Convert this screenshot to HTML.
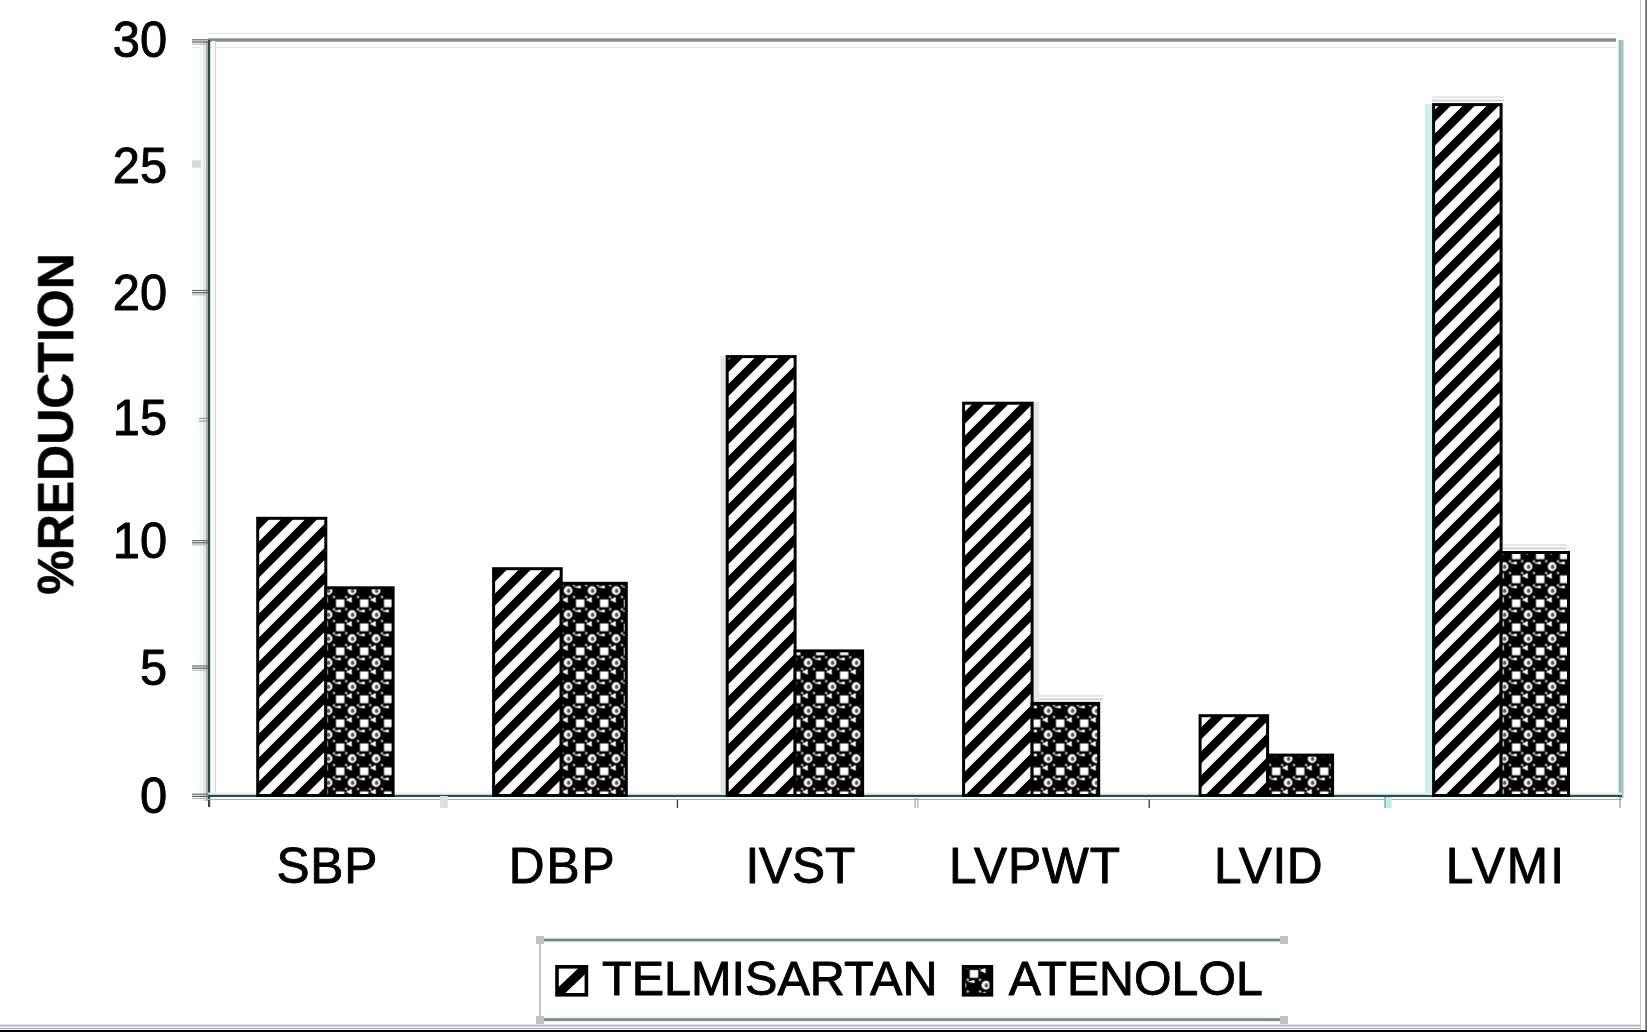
<!DOCTYPE html>
<html lang="en"><head><meta charset="utf-8"><title>% Reduction: Telmisartan vs Atenolol</title>
<style>html,body{margin:0;padding:0;background:#fff}body{width:1647px;height:1032px;overflow:hidden}svg{display:block}text{font-family:"Liberation Sans",Arial,sans-serif;fill:#000;stroke:#000;stroke-width:0.9px;stroke-linejoin:round}</style>
</head><body>
<svg width="1647" height="1032" viewBox="0 0 1647 1032">
<defs>
<pattern id="pt" patternUnits="userSpaceOnUse" width="24" height="24" patternTransform="translate(1 0)"><rect width="24" height="24" fill="#fff"/><path d="M-6 43.5L43.5 -6M-30 43.5L43.5 -30M-6 67.5L67.5 -6" stroke="#000" stroke-width="8.6" fill="none"/></pattern>
<pattern id="pa" patternUnits="userSpaceOnUse" width="24" height="24" patternTransform="translate(20.6 19.6)"><rect width="24" height="24" fill="#000"/><g fill="#fff"><rect x="3.4" y="3.8" width="8.4" height="7.8"/><path d="M13.2 4.3L19.2 1.2V7.2Z"/><circle cx="19.5" cy="19" r="4.4"/><path d="M1 15.4L8.2 13.8V17Z"/><rect x="0.4" y="0.4" width="2" height="2"/><rect x="12.6" y="0.4" width="2" height="2"/><rect x="0.4" y="12.6" width="2" height="2"/><rect x="12.6" y="12.6" width="2" height="2"/></g><ellipse cx="20" cy="19.2" rx="1.7" ry="2.3" fill="#456"/></pattern>
<pattern id="pa2" patternUnits="userSpaceOnUse" width="24" height="24" patternTransform="translate(6.4 6.2)"><rect width="24" height="24" fill="#000"/><g fill="#fff"><rect x="3.4" y="3.8" width="8.4" height="7.8"/><path d="M13.2 4.3L19.2 1.2V7.2Z"/><circle cx="19.5" cy="19" r="4.4"/><path d="M1 15.4L8.2 13.8V17Z"/><rect x="0.4" y="0.4" width="2" height="2"/><rect x="12.6" y="0.4" width="2" height="2"/><rect x="0.4" y="12.6" width="2" height="2"/><rect x="12.6" y="12.6" width="2" height="2"/></g><ellipse cx="20" cy="19.2" rx="1.7" ry="2.3" fill="#456"/></pattern>
<filter id="tb" x="-5%" y="-20%" width="110%" height="140%"><feGaussianBlur stdDeviation="0.55"/></filter>
<filter id="bl" x="-5%" y="-5%" width="110%" height="110%"><feGaussianBlur stdDeviation="0.65"/></filter>
</defs>
<rect width="1647" height="1032" fill="#fff"/>
<rect x="0" y="1024.6" width="1641" height="2" fill="#b4b4d4"/>
<rect x="0" y="1028" width="1641" height="1" fill="#9a9adc"/>
<rect x="0" y="1030" width="1647" height="2" fill="#000"/>
<rect x="1640" y="0" width="1" height="1030" fill="#c8c8c8"/>
<rect x="1645.3" y="0" width="1.7" height="1030" fill="#686868"/>
<rect x="208" y="38.3" width="1408" height="3.4" fill="#8c8c8c"/>
<rect x="208" y="33" width="1409" height="1" fill="#e6e6e6"/>
<rect x="192" y="47" width="1425" height="1" fill="#e6e6e6"/>
<rect x="1618" y="40" width="6" height="758" fill="#c6e4e6"/>
<rect x="1619.5" y="40" width="1.2" height="758" fill="#7f9c9e"/>
<rect x="1621.6" y="40" width="1" height="758" fill="#8aa6a8"/>
<rect x="200" y="41" width="3" height="760" fill="#e4ffff"/>
<rect x="203" y="41" width="3" height="760" fill="#ffdcdc"/>
<rect x="206" y="41" width="2" height="760" fill="#94b8b8"/>
<rect x="208" y="40" width="2.2" height="767" fill="#364646"/>
<rect x="212" y="41" width="2.5" height="754" fill="#e6ffff"/>
<rect x="215" y="41" width="1" height="754" fill="#f0c8c8"/>
<rect x="208" y="794.6" width="1414" height="2.4" fill="#2c4c4c"/>
<rect x="208" y="792.6" width="1414" height="2" fill="#e2f0f0"/>
<rect x="208" y="799" width="1414" height="1" fill="#84c2c2"/>
<rect x="192" y="793.6" width="16" height="1.2" fill="#6a6a6a"/><rect x="192" y="795.8" width="16" height="1.2" fill="#5a5a5a"/><rect x="192" y="798.0" width="16" height="1" fill="#b0b0b0"/>
<rect x="192" y="665.4" width="16" height="1.2" fill="#6a6a6a"/><rect x="192" y="667.6" width="16" height="1.2" fill="#5a5a5a"/><rect x="192" y="669.8" width="16" height="1" fill="#b0b0b0"/>
<rect x="192" y="540.0" width="16" height="1.2" fill="#6a6a6a"/><rect x="192" y="542.2" width="16" height="1.2" fill="#5a5a5a"/><rect x="192" y="544.4" width="16" height="1" fill="#b0b0b0"/>
<rect x="199" y="417.9" width="9" height="1" fill="#8c8c8c"/><rect x="199" y="420.5" width="9" height="1" fill="#8c8c8c"/>
<rect x="192" y="289.9" width="16" height="1.2" fill="#6a6a6a"/><rect x="192" y="292.1" width="16" height="1.2" fill="#5a5a5a"/><rect x="192" y="294.3" width="16" height="1" fill="#b0b0b0"/>
<rect x="192" y="160.2" width="9" height="7.6" fill="#dadada"/>
<rect x="192" y="39.2" width="16" height="1.2" fill="#6a6a6a"/><rect x="192" y="41.4" width="16" height="1.2" fill="#5a5a5a"/><rect x="192" y="43.6" width="16" height="1" fill="#b0b0b0"/>
<rect x="440" y="796" width="7.8" height="12" fill="#dedede"/>
<rect x="676.8" y="799.5" width="1.3" height="8.5" fill="#3c3c3c"/>
<rect x="914.6" y="798" width="1" height="10" fill="#8c8c8c"/><rect x="917.4" y="798" width="1" height="10" fill="#9a9a9a"/>
<rect x="1148.6" y="799.5" width="1.3" height="8.5" fill="#3c3c3c"/>
<rect x="1384" y="797" width="7.6" height="11" fill="#c4eaea"/><rect x="1384.4" y="797" width="1.4" height="11" fill="#7fb4b4"/>
<rect x="1619.4" y="798" width="1.2" height="10" fill="#a88c8c"/>
<rect x="1432" y="96.3" width="72" height="1.6" fill="#e2e2e2"/><rect x="1432" y="99.5" width="72" height="2" fill="#d4d4d4"/>
<rect x="1503" y="544.2" width="64" height="1.6" fill="#e2e2e2"/><rect x="1503" y="547.4" width="64" height="2" fill="#d4d4d4"/>
<rect x="1033" y="695.1" width="70" height="1.6" fill="#e2e2e2"/><rect x="1033" y="698.3" width="70" height="2" fill="#d4d4d4"/>
<rect x="1425" y="104" width="7.4" height="691" fill="#cfeff0"/>
<rect x="720.4" y="356" width="5.4" height="439" fill="#e4e4e4"/>
<rect x="1033.6" y="402" width="5.6" height="300" fill="#e6e6e6"/>
<g filter="url(#bl)">
<rect x="257.7" y="518.3" width="68.1" height="277.2" fill="url(#pt)" stroke="#000" stroke-width="3"/>
<rect x="325.8" y="587.8" width="67.3" height="207.7" fill="url(#pa)" stroke="#000" stroke-width="3"/>
<rect x="493.6" y="568.7" width="67.6" height="226.8" fill="url(#pt)" stroke="#000" stroke-width="3"/>
<rect x="561.2" y="583.3" width="65.1" height="212.2" fill="url(#pa)" stroke="#000" stroke-width="3"/>
<rect x="727.2" y="356.6" width="67.9" height="438.9" fill="url(#pt)" stroke="#000" stroke-width="3"/>
<rect x="795.1" y="650.9" width="67.5" height="144.6" fill="url(#pa)" stroke="#000" stroke-width="3"/>
<rect x="963.6" y="403.2" width="68.5" height="392.3" fill="url(#pt)" stroke="#000" stroke-width="3"/>
<rect x="1032.1" y="703.4" width="66.6" height="92.1" fill="url(#pa)" stroke="#000" stroke-width="3"/>
<rect x="1200.1" y="715.7" width="67.5" height="79.8" fill="url(#pt)" stroke="#000" stroke-width="3"/>
<rect x="1267.6" y="755.1" width="65.0" height="40.4" fill="url(#pa)" stroke="#000" stroke-width="3"/>
<rect x="1433.6" y="104.6" width="67.5" height="690.9" fill="url(#pt)" stroke="#000" stroke-width="3"/>
<rect x="1501.1" y="552.5" width="67.4" height="243.0" fill="url(#pa)" stroke="#000" stroke-width="3"/>
</g>
<rect x="539" y="941" width="2" height="78" fill="#c4c4c4"/>
<rect x="540" y="937.4" width="744" height="5.2" fill="#e8eeee"/>
<rect x="540" y="938.8" width="744" height="2.4" fill="#6c8484"/>
<rect x="540" y="1017.0" width="744" height="5.2" fill="#e8eeee"/>
<rect x="540" y="1018.4" width="744" height="2.4" fill="#6c8484"/>
<rect x="536" y="936" width="8" height="8" fill="#c2c2c2"/>
<rect x="536" y="1016" width="8" height="8" fill="#c2c2c2"/>
<rect x="1280" y="936" width="8" height="8" fill="#c2c2c2"/>
<rect x="1280" y="1016" width="8" height="8" fill="#c2c2c2"/>
<g filter="url(#bl)">
<rect x="557" y="966.8" width="29.4" height="28" fill="#fff" stroke="#000" stroke-width="3.6"/>
<path d="M557 988.5V994.8H563.6L586.4 973V966.8H579.8Z" fill="#000"/>
<rect x="963.6" y="966.6" width="27.8" height="28.2" fill="url(#pa2)" stroke="#000" stroke-width="3.6"/>
</g>
<g filter="url(#tb)">
<text transform="translate(167.2 812.6) scale(0.985 1.02)" font-size="49.6" text-anchor="end">0</text>
<text transform="translate(167.2 685.4) scale(0.985 1.02)" font-size="49.6" text-anchor="end">5</text>
<text transform="translate(167.2 558.4) scale(0.985 1.02)" font-size="49.6" text-anchor="end">10</text>
<text transform="translate(167.2 434.9) scale(0.985 1.02)" font-size="49.6" text-anchor="end">15</text>
<text transform="translate(167.2 310.1) scale(0.985 1.02)" font-size="49.6" text-anchor="end">20</text>
<text transform="translate(167.2 183.1) scale(0.985 1.02)" font-size="49.6" text-anchor="end">25</text>
<text transform="translate(167.2 57.1) scale(0.985 1.02)" font-size="49.6" text-anchor="end">30</text>
<text x="276.4" y="883.0" font-size="49.6" letter-spacing="0.80">SBP</text>
<text x="508.8" y="883.0" font-size="49.6" letter-spacing="1.90">DBP</text>
<text x="745.5" y="883.0" font-size="49.6" letter-spacing="-0.17">IVST</text>
<text x="949.1" y="883.0" font-size="49.6" letter-spacing="0.95">LVPWT</text>
<text x="1214.1" y="883.0" font-size="49.6" letter-spacing="0.67">LVID</text>
<text x="1445.7" y="883.0" font-size="49.6" letter-spacing="2.08">LVMI</text>
<text transform="translate(73.2 424.0) rotate(-90)" font-size="50" font-weight="bold" style="stroke-width:0.5px" text-anchor="middle" textLength="341.5" lengthAdjust="spacing">%REDUCTION</text>
<text x="602" y="995.3" font-size="48.6" textLength="335.5" lengthAdjust="spacingAndGlyphs">TELMISARTAN</text>
<text x="1008.8" y="995.3" font-size="48.6" textLength="254" lengthAdjust="spacingAndGlyphs">ATENOLOL</text>
</g>
</svg></body></html>
